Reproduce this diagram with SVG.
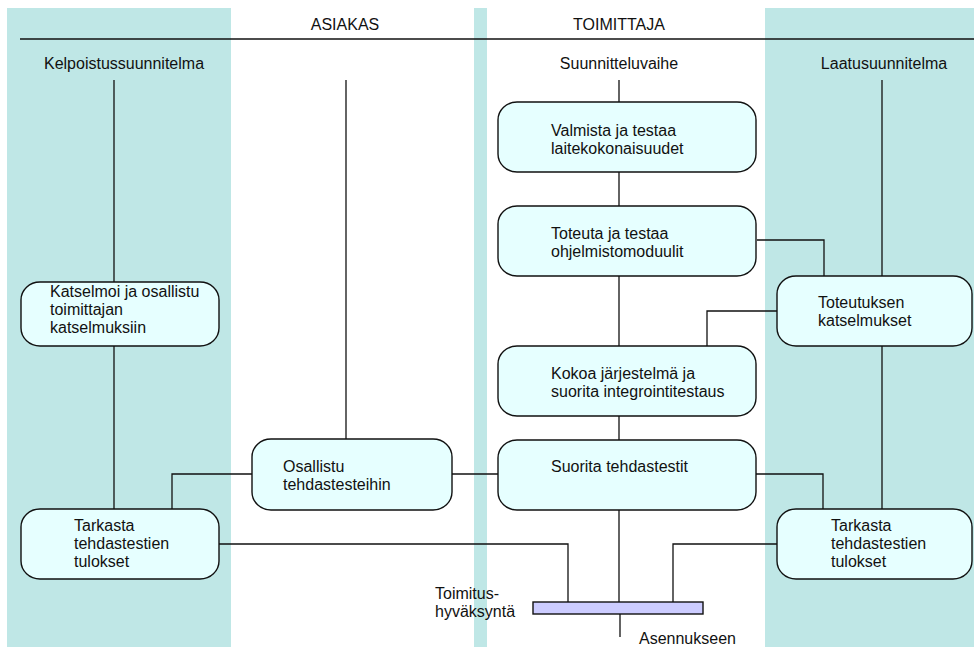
<svg xmlns="http://www.w3.org/2000/svg" width="974" height="647" viewBox="0 0 974 647">
<style>
text{font-family:"Liberation Sans",Arial,sans-serif;font-size:16px;fill:#111}
.band{fill:#BFE7E6}
.box{fill:#E6FFFF;stroke:#111;stroke-width:1.4}
.ln{fill:none;stroke:#111;stroke-width:1.3}
.c{text-anchor:middle}
</style>
<rect width="974" height="647" fill="#fff"/>
<g id="bands">
<rect class="band" x="7" y="8" width="224" height="639"/>
<rect class="band" x="474" y="8" width="13" height="639"/>
<rect class="band" x="765" y="8" width="209" height="639"/>
</g>
<g id="header">
<line class="ln" x1="20" y1="39" x2="974" y2="39" stroke-width="1.8"/>
<text class="c" x="345" y="30">ASIAKAS</text>
<text class="c" x="619" y="30">TOIMITTAJA</text>
<text class="c" x="124" y="69">Kelpoistussuunnitelma</text>
<text class="c" x="619" y="69">Suunnitteluvaihe</text>
<text class="c" x="884" y="69">Laatusuunnitelma</text>
</g>
<g id="connectors">
<path class="ln" d="M114 80V282M114 346V509"/>
<path class="ln" d="M346 80V439"/>
<path class="ln" d="M619 80V102M619 172V206M619 276V346M619 416V440M619 510V602M620 614V637"/>
<path class="ln" d="M882 80V276M882 346V509"/>
<path class="ln" d="M757 240H824V276"/>
<path class="ln" d="M777 311H707V346"/>
<path class="ln" d="M252 474H172V509"/>
<path class="ln" d="M452 474H498"/>
<path class="ln" d="M756 474H823V509"/>
<path class="ln" d="M219 544H568V602"/>
<path class="ln" d="M777 544H673V602"/>
</g>
<g id="n-valmista">
<rect class="box" x="498" y="102" width="258" height="70" rx="19" ry="18"/>
<text x="551" y="136">Valmista ja testaa</text>
<text x="551" y="154">laitekokonaisuudet</text>
</g>
<g id="n-toteuta">
<rect class="box" x="498" y="206" width="258" height="70" rx="19" ry="18"/>
<text x="551" y="239">Toteuta ja testaa</text>
<text x="551" y="257">ohjelmistomoduulit</text>
</g>
<g id="n-kokoa">
<rect class="box" x="498" y="346" width="258" height="70" rx="19" ry="18"/>
<text x="551" y="379">Kokoa järjestelmä ja</text>
<text x="551" y="397">suorita integrointitestaus</text>
</g>
<g id="n-suorita">
<rect class="box" x="498" y="440" width="258" height="70" rx="19" ry="18"/>
<text x="551" y="472">Suorita tehdastestit</text>
</g>
<g id="n-katselmoi">
<rect class="box" x="21" y="282" width="198" height="64" rx="19" ry="18"/>
<text x="50" y="297">Katselmoi ja osallistu</text>
<text x="50" y="315">toimittajan</text>
<text x="50" y="333">katselmuksiin</text>
</g>
<g id="n-osallistu">
<rect class="box" x="252" y="439" width="200" height="71" rx="19" ry="18"/>
<text x="283" y="472">Osallistu</text>
<text x="283" y="490">tehdastesteihin</text>
</g>
<g id="n-tarkasta-vasen">
<rect class="box" x="21" y="509" width="198" height="70" rx="19" ry="18"/>
<text x="74" y="531">Tarkasta</text>
<text x="74" y="549">tehdastestien</text>
<text x="74" y="567">tulokset</text>
</g>
<g id="n-toteutuksen">
<rect class="box" x="777" y="276" width="195" height="70" rx="19" ry="18"/>
<text x="818" y="308">Toteutuksen</text>
<text x="818" y="326">katselmukset</text>
</g>
<g id="n-tarkasta-oikea">
<rect class="box" x="777" y="509" width="195" height="70" rx="19" ry="18"/>
<text x="831" y="531">Tarkasta</text>
<text x="831" y="549">tehdastestien</text>
<text x="831" y="567">tulokset</text>
</g>
<g id="n-toimitus">
<rect x="533" y="602" width="170" height="12" fill="#CCCCFF" stroke="#111" stroke-width="1.4"/>
<text x="435" y="599">Toimitus-</text>
<text x="435" y="617">hyväksyntä</text>
<text x="639" y="644">Asennukseen</text>
</g>
</svg>
